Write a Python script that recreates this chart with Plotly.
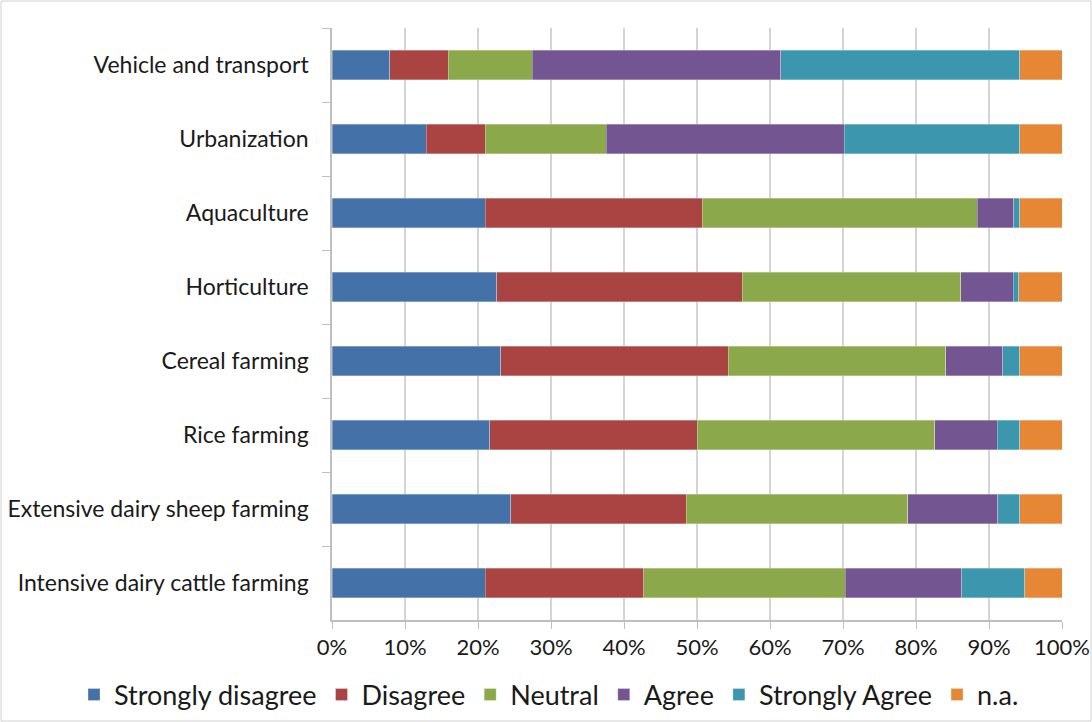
import plotly.graph_objects as go

categories = ["Vehicle and transport", "Urbanization", "Aquaculture", "Horticulture",
              "Cereal farming", "Rice farming", "Extensive dairy sheep farming",
              "Intensive dairy cattle farming"]

series_names = ["Strongly disagree", "Disagree", "Neutral", "Agree", "Strongly Agree", "n.a."]

strongly_disagree = [7.9, 12.9, 21.0, 22.6, 23.1, 21.6, 24.5, 21.0]
disagree          = [8.0, 8.1, 29.7, 33.6, 31.2, 28.4, 24.0, 21.7]
neutral           = [11.5, 16.6, 37.7, 29.9, 29.8, 32.6, 30.4, 27.6]
agree             = [34.1, 32.6, 5.0, 7.2, 7.8, 8.5, 12.3, 16.0]
strongly_agree    = [32.7, 24.0, 0.8, 0.8, 2.3, 3.1, 3.0, 8.6]
na                = [5.8, 5.8, 5.8, 5.9, 5.8, 5.8, 5.8, 5.1]

x_ticks = [0, 10, 20, 30, 40, 50, 60, 70, 80, 90, 100]
x_tick_labels = [f"{v}%" for v in x_ticks]

colors = ["#4472A8", "#A94442", "#8BA84A", "#735592", "#3C96AE", "#E58735"]
values = [strongly_disagree, disagree, neutral, agree, strongly_agree, na]

fig = go.Figure()
for name, vals, col in zip(series_names, values, colors):
    fig.add_trace(go.Bar(
        y=categories, x=vals, name=name, orientation="h",
        marker=dict(color=col, line=dict(color="rgba(255,255,255,0.6)", width=0.5)),
    ))

W, H = 1092, 722
ml, mr, mt, mb = 332, 30, 28, 102
pw, ph = W - ml - mr, H - mt - mb

fig.update_layout(
    width=W, height=H,
    barmode="stack", bargap=0.6,
    paper_bgcolor="white", plot_bgcolor="white",
    margin=dict(l=ml, r=mr, t=mt, b=mb, autoexpand=False),
    font=dict(family="Lato, 'Open Sans', sans-serif", color="#1a1a1a", size=22),
    legend=dict(orientation="h", x=(74 - ml) / pw, xanchor="left",
                y=-(695 - (H - mb)) / ph, yanchor="middle", font=dict(size=27),
                traceorder="normal", bgcolor="rgba(0,0,0,0)"),
    xaxis=dict(range=[0, 100], tickvals=x_ticks, ticktext=x_tick_labels,
               showgrid=True, gridcolor="#d4d4d4", gridwidth=1.5,
               showline=True, linecolor="#bfbfbf", linewidth=1.5,
               ticks="outside", ticklen=7, tickcolor="#bfbfbf",
               tickfont=dict(size=22), zeroline=False, fixedrange=True),
    yaxis=dict(autorange="reversed", showline=True, linecolor="#bfbfbf", linewidth=1.5,
               ticks="outside", ticklen=8, tickcolor="#bfbfbf", tickson="boundaries",
               tickfont=dict(size=23), showgrid=False, ticklabelstandoff=17),
    shapes=[dict(type="rect", xref="paper", yref="paper",
                 x0=-(ml - 1) / pw, x1=1 + (mr - 1) / pw,
                 y0=-(mb - 1) / ph, y1=1 + (mt - 1) / ph,
                 line=dict(color="#d0d0d0", width=1))],
)

fig.write_html("out.html", config={"displayModeBar": False},
               post_script="document.body.style.margin='0';")
